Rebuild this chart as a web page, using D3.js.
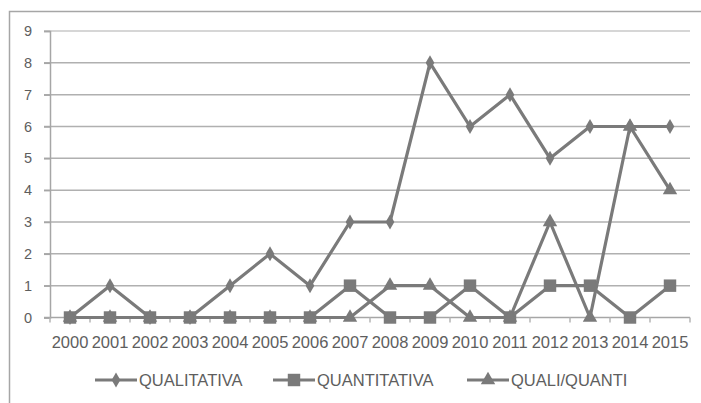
<!DOCTYPE html>
<html>
<head>
<meta charset="utf-8">
<script src="https://cdn.jsdelivr.net/npm/d3@7/dist/d3.min.js"></script>
<style>
  html, body { margin: 0; padding: 0; background: #fff; }
  svg { display: block; }
  text { font-family: "Liberation Sans", Arial, sans-serif; fill: #5e5e5e; }
</style>
</head>
<body>
<svg id="chart" width="701" height="403"></svg>
<script>
// Publications per year by research approach
const years = ["2000","2001","2002","2003","2004","2005","2006","2007","2008","2009","2010","2011","2012","2013","2014","2015"];
const qualitativa  = [0,1,0,0,1,2,1,3,3,8,6,7,5,6,6,6];
const quantitativa = [0,0,0,0,0,0,0,1,0,0,1,0,1,1,0,1];
const qualiQuanti  = [0,0,0,0,0,0,0,0,1,1,0,0,3,0,6,4];
const seriesNames  = ["QUALITATIVA","QUANTITATIVA","QUALI/QUANTI"];
const yTicks = [0,1,2,3,4,5,6,7,8,9];

const svg = d3.select("#chart");
const grey = "#7a7a7a";

// outer chart frame (continues past the right and bottom edges)
svg.append("rect")
  .attr("x", 9.5).attr("y", 11.5)
  .attr("width", 720).attr("height", 420)
  .attr("fill", "#fff").attr("stroke", "#a6a6a6").attr("stroke-width", 1.5);

const x = d3.scaleBand().domain(years).range([50, 690]);
const y = d3.scaleLinear().domain([0, 9]).range([317.5, 31]);

// horizontal gridlines
svg.append("g").selectAll("line").data(yTicks.filter(d => d > 0)).join("line")
  .attr("x1", 44).attr("x2", 690)
  .attr("y1", d => y(d)).attr("y2", d => y(d))
  .attr("stroke", d => d === 9 ? "#c8c8c8" : "#b0b0b0").attr("stroke-width", 1.5);

// y axis
const yAxis = svg.append("g").attr("transform", "translate(50,0)")
  .call(d3.axisLeft(y).tickValues(yTicks).tickSize(6).tickPadding(12));
yAxis.select(".domain").attr("stroke", "#a6a6a6").attr("stroke-width", 1.5);
yAxis.selectAll(".tick line").attr("stroke", "#a6a6a6").attr("stroke-width", 1.5);
yAxis.selectAll(".tick text").style("font-size", "14.5px").attr("fill", "#5e5e5e")
  .style("font-family", "Liberation Sans, Arial, sans-serif");

// x axis with ticks at category boundaries
const xAxisG = svg.append("g").attr("transform", `translate(0,${y(0)})`);
xAxisG.append("line").attr("x1", 44).attr("x2", 690)
  .attr("stroke", "#a6a6a6").attr("stroke-width", 1.5);
const bounds = d3.range(years.length + 1).map(i => 50 + i * x.step());
xAxisG.selectAll("line.b").data(bounds).join("line").attr("class", "b")
  .attr("x1", d => d).attr("x2", d => d).attr("y1", 0).attr("y2", 5)
  .attr("stroke", "#b4b4b4").attr("stroke-width", 1.5);
xAxisG.selectAll("text").data(years).join("text")
  .attr("x", d => x(d) + x.bandwidth() / 2).attr("y", 30.5)
  .attr("text-anchor", "middle").style("font-size", "16.5px")
  .text(d => d);

const cx = d => x(d) + x.bandwidth() / 2;
const line = d3.line().x(d => cx(d.year)).y(d => y(d.v));

const symbols = [
  d3.symbol().type(d3.symbolDiamond).size(65),
  d3.symbol().type(d3.symbolSquare).size(155),
  d3.symbol().type(d3.symbolTriangle).size(90)
];

const allSeries = [qualitativa, quantitativa, qualiQuanti];
allSeries.forEach((vals, i) => {
  const pts = years.map((yr, j) => ({ year: yr, v: vals[j] }));
  const g = svg.append("g");
  g.append("path").datum(pts).attr("d", line)
    .attr("fill", "none").attr("stroke", grey).attr("stroke-width", 3.2)
    .attr("stroke-linejoin", "round");
  g.selectAll("path.m").data(pts).join("path").attr("class", "m")
    .attr("d", symbols[i])
    .attr("transform", d => `translate(${cx(d.year)},${y(d.v)})`)
    .attr("fill", grey);
});

// legend
const legendX = [95, 273, 467];
const legend = svg.append("g");
seriesNames.forEach((name, i) => {
  const lx = legendX[i], ly = 380;
  legend.append("line").attr("x1", lx).attr("x2", lx + 42)
    .attr("y1", ly).attr("y2", ly).attr("stroke", grey).attr("stroke-width", 3);
  legend.append("path").attr("d", symbols[i])
    .attr("transform", `translate(${lx + 21},${ly})`).attr("fill", grey);
  legend.append("text").attr("x", lx + 44).attr("y", ly + 6)
    .style("font-size", "16.5px").text(name);
});
</script>
</body>
</html>
